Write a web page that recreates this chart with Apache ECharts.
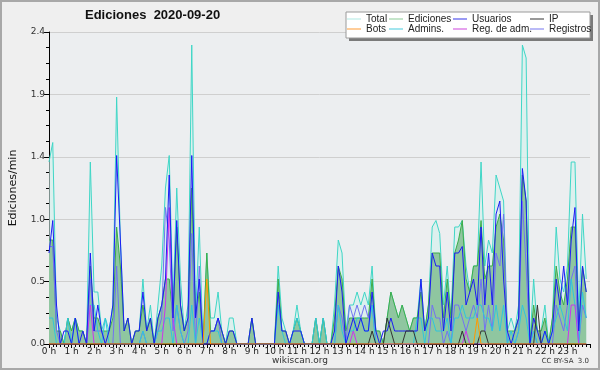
<!DOCTYPE html>
<html><head><meta charset="utf-8">
<script src="https://cdn.jsdelivr.net/npm/echarts@6/dist/echarts.min.js"></script>
<style>html,body{margin:0;padding:0;background:#efefef}#c{width:600px;height:370px}</style>
</head><body><div id="c"></div>
<script>
// 10-minute slots, 6 per hour, 24 hours (values in edits/min)
const total = [
 1.4,1.55,0.2,0.1,0.0,0.2,  0.1,0.2,0.1,0.1,0.0,1.4,  0.4,0.4,0.1,0.2,0.1,0.3,  1.9,0.8,0.1,0.2,0.0,0.1,
 0.1,0.5,0.1,0.3,0.0,0.3,  0.6,1.2,1.45,0.3,1.2,0.5,  0.1,0.3,2.3,0.2,0.9,0.0,  0.7,0.2,0.2,0.4,0.1,0.0,
 0.2,0.2,0.0,0.0,0.0,0.0,  0.2,0.0,0.0,0.0,0.0,0.0,  0.0,0.6,0.2,0.1,0.0,0.1,  0.3,0.1,0.0,0.0,0.0,0.2,
 0.0,0.2,0.0,0.0,0.3,0.8,  0.7,0.1,0.3,0.3,0.4,0.3,  0.4,0.3,0.6,0.1,0.1,0.0,  0.2,0.4,0.3,0.2,0.3,0.2,
 0.1,0.2,0.2,0.5,0.1,0.3,  0.9,0.95,0.85,0.3,0.6,0.2,  0.9,0.9,0.95,0.6,0.4,0.6,  0.6,1.4,0.6,0.8,0.7,1.3,
 1.2,1.1,0.1,0.2,0.1,0.3,  2.3,2.2,0.0,0.5,0.1,0.1,  0.3,0.0,0.2,0.9,0.5,0.4,  0.6,1.4,1.4,0.2,1.0,0.5
];
const ediciones = [
 0.8,0.8,0.1,0.1,0,0.2,  0.1,0.2,0.1,0.1,0,0.6,  0.2,0.2,0.1,0.1,0.1,0.2,  0.9,0.6,0.1,0.2,0,0.1,
 0.1,0.3,0.1,0.2,0,0.2,  0.3,0.5,0.5,0.2,0.9,0.3,  0.1,0.2,1.2,0.2,0.4,0,  0.7,0.1,0.1,0.2,0.1,0,
 0.1,0.1,0,0,0,0,  0.2,0,0,0,0,0,  0,0.5,0.1,0.1,0,0.1,  0.2,0.1,0,0,0,0.2,
 0,0.2,0,0,0.2,0.6,  0.5,0.1,0.2,0.2,0.2,0.2,  0.2,0.2,0.5,0.1,0.1,0,  0.2,0.4,0.3,0.2,0.3,0.2,
 0.1,0.2,0.2,0.4,0.1,0.3,  0.7,0.7,0.7,0.2,0.5,0.2,  0.7,0.8,0.95,0.5,0.4,0.6,  0.6,0.95,0.5,0.6,0.6,0.9,
 1.0,0.8,0.1,0.1,0.1,0.2,  1.3,1.1,0,0.3,0.1,0.1,  0.2,0,0.2,0.6,0.4,0.3,  0.5,0.9,0.9,0.1,0.6,0.4
];
const usuarios = [
 0.7,0.95,0.3,0,0.1,0.1,  0,0.2,0,0.1,0,0.7,  0.1,0.3,0.1,0,0.1,0.3,  1.45,0.8,0.1,0.2,0,0.1,
 0.1,0.4,0.1,0.2,0,0.2,  0.3,0.5,1.3,0.2,0.95,0.3,  0.1,0.2,1.45,0.2,0.5,0,  0,0.1,0.1,0.2,0.1,0,
 0.1,0.1,0,0,0,0,  0.2,0,0,0,0,0,  0,0.4,0.1,0.1,0,0.1,  0.1,0.1,0,0,0,0,
 0,0,0,0,0.1,0.6,  0.4,0,0.1,0.2,0.1,0.2,  0.1,0.1,0.4,0.1,0,0.1,  0.1,0.2,0.1,0.1,0.1,0.1,
 0.1,0.1,0.1,0.5,0.1,0.2,  0.7,0.6,0.6,0.1,0.4,0.1,  0.7,0.7,0.75,0.3,0.4,0.5,  0.3,0.9,0.3,0.7,0.3,1.0,
 1.1,0.5,0.1,0,0.1,0.2,  1.35,1.1,0,0.2,0.1,0,  0.1,0,0.1,0.5,0.3,0.6,  0.3,0.8,1.05,0.1,0.6,0.4
];
const ip = [
 0,0,0,0,0,0,  0,0,0,0,0,0,  0,0,0,0,0,0,  0,0,0,0,0,0,
 0,0,0,0,0,0,  0,0,0,0,0,0,  0,0,0,0,0,0,  0,0,0,0,0,0,
 0,0,0,0,0,0,  0,0,0,0,0,0,  0,0,0,0,0,0,  0,0,0,0,0,0,
 0,0,0,0,0,0,  0,0,0,0,0,0,  0,0,0.1,0,0,0,  0.2,0.1,0,0,0,0.1,
 0.1,0.1,0,0,0,0,  0,0,0,0,0,0,  0,0,0.1,0,0,0,  0,0.1,0.1,0,0,0,
 0,0,0,0,0,0,  0,0,0,0,0.3,0,  0,0,0,0,0,0,  0,0,0,0,0,0
];
const bots = [
 0,0,0,0,0,0,  0,0,0,0,0,0,  0,0,0,0,0,0,  0,0,0,0,0,0,
 0,0,0,0,0,0,  0,0,0,0,0,0,  0,0,0,0,0,0,  0.5,0,0,0,0,0,
 0,0,0,0,0,0,  0,0,0,0,0,0,  0,0,0,0,0,0,  0,0,0,0,0,0,
 0,0,0,0,0,0,  0,0,0,0,0,0,  0,0,0,0,0,0,  0,0,0,0,0,0,
 0,0,0,0,0,0,  0,0,0,0,0,0,  0,0,0,0,0,0,  0.2,0,0,0,0,0,
 0,0,0,0,0,0,  0,0,0,0,0,0,  0,0,0,0,0,0,  0,0,0,0,0,0
];
const admins = [
 0.2,0.2,0,0,0,0.2,  0,0.2,0,0,0,0.3,  0.3,0.1,0,0.2,0,0,  0,0,0,0,0,0,
 0,0.1,0,0,0,0.1,  0.1,0.2,0.2,0,0.3,0.1,  0,0,0.3,0,0.2,0,  0,0.1,0.1,0.1,0,0,
 0,0,0,0,0,0,  0,0,0,0,0,0,  0,0.3,0.1,0,0,0.1,  0.2,0.1,0,0,0,0.2,
 0,0.2,0,0,0,0.3,  0.1,0,0.1,0.1,0.2,0.2,  0.1,0.1,0.3,0,0,0,  0,0,0,0,0,0,
 0,0,0.2,0.2,0,0.2,  0.2,0.1,0.1,0.1,0.2,0,  0.2,0.2,0.3,0.2,0.2,0.2,  0.3,0.3,0.2,0.2,0.1,0.3,
 0.1,0.3,0,0.1,0,0.1,  0.3,0.2,0,0.1,0,0,  0.1,0,0.1,0.2,0.3,0.2,  0.1,0.5,0.3,0,0.4,0.2
];
const regAdm = [
 0,0,0,0,0,0,  0,0,0,0,0,0.3,  0,0,0,0,0,0,  0,0,0,0,0,0,
 0,0,0,0,0,0,  0,0.3,1.05,0.2,0,0,  0,0,0,0,0,0,  0,0,0,0,0,0,
 0,0,0,0,0,0,  0,0,0,0,0,0,  0,0,0,0,0,0,  0,0,0,0,0,0,
 0,0,0,0,0,0,  0,0,0,0.1,0,0,  0,0,0,0,0,0,  0,0,0,0,0,0,
 0,0,0,0,0,0,  0,0,0,0,0,0,  0,0,0,0.1,0,0,  0,0,0,0,0,0,
 0,0,0,0,0,0,  0,0,0,0,0,0,  0,0,0,0,0,0,  0,0.3,0.3,0,0,0
];
const registros = [
 0.75,0.75,0.1,0,0,0,  0,0,0,0,0,0.5,  0.1,0.1,0.1,0,0,0,  0.6,0,0,0,0,0,
 0,0.1,0,0,0,0.1,  0.2,1.05,0.8,0.1,0.3,0.1,  0,0.1,0.85,0,0.6,0,  0,0.1,0.1,0.2,0,0,
 0,0,0,0,0,0,  0,0,0,0,0,0,  0,0,0,0,0,0,  0,0,0,0,0,0,
 0,0,0,0,0,0.3,  0.2,0,0.3,0.2,0.3,0.2,  0.3,0.2,0.3,0,0,0,  0,0,0,0,0,0,
 0,0,0,0,0,0,  0.3,0.2,0.2,0,0.1,0,  0.3,0.3,0.2,0.1,0.2,0.3,  0.2,0.5,0.1,0.3,0.1,0.7,
 0.6,1.0,0,0,0,0.1,  1.1,0.6,0,0.1,0,0,  0,0,0,0.3,0.2,0.1,  0.3,0.5,0.6,0,0.3,0.2
];
const seriesNames = ['Total','Ediciones','Usuarios','IP','Bots','Admins.','Reg. de adm.','Registros'];
const slotsPerHour = 6;

const toPts = arr => arr.map((v, i) => [i / slotsPerHour, v]);
const lineS = (name, arr, color, z, area) => {
  const s = {name, type:'line', data: toPts(arr), showSymbol:false, symbol:'none', z,
    lineStyle:{color, width:1}, itemStyle:{color}, emphasis:{disabled:true}};
  if (area) s.areaStyle = area;
  return s;
};

const legendText = {fontSize:10, color:'#222', fontFamily:'Liberation Sans', lineHeight:10};
const legItem = (name, color) => ({name, icon:'rect', itemStyle:{color}});
const mkLegend = (left, items) => ({
  orient:'vertical', left, top:14, padding:0, itemGap:0, itemWidth:14, itemHeight:1,
  textStyle:legendText, selectedMode:false, z:20, data:items
});

const chart = echarts.init(document.getElementById('c'), null, {renderer:'canvas'});
chart.setOption({
  animation:false,
  backgroundColor:'#efefef',
  title:{text:'Ediciones  2020-09-20', left:85, top:9, padding:0,
    textStyle:{fontSize:13, fontWeight:'bold', fontFamily:'Liberation Sans', color:'#111'}},
  grid:{left:45, right:10, top:32, bottom:26, show:true, backgroundColor:'#eceef0', borderWidth:0},
  xAxis:{type:'value', min:0, max:24, interval:1,
    axisLine:{show:true, lineStyle:{color:'#000', width:1}},
    axisTick:{show:true, length:4, lineStyle:{color:'#000'}},
    minorTick:{show:true, splitNumber:6, length:3, lineStyle:{color:'#000'}},
    splitLine:{show:false},
    axisLabel:{fontSize:9, color:'#222', margin:3, fontFamily:'DejaVu Sans',
      formatter: v => v >= 24 ? '' : v + ' h'}},
  yAxis:{type:'value', min:0, max:2.4, interval:0.48,
    name:'Ediciones/min', nameLocation:'middle', nameGap:30, nameRotate:90,
    nameTextStyle:{fontSize:11, color:'#111', fontFamily:'DejaVu Sans'},
    axisLine:{show:true, lineStyle:{color:'#000', width:1}},
    axisTick:{show:true, length:5, lineStyle:{color:'#000'}},
    minorTick:{show:true, splitNumber:4, length:3, lineStyle:{color:'#000'}},
    splitLine:{show:true, lineStyle:{color:'#cfcfcf', width:1}},
    axisLabel:{fontSize:9, color:'#333', margin:4, fontFamily:'DejaVu Sans',
      formatter: v => v.toFixed(1)}},
  legend:[
    mkLegend(347, [legItem('Total','#aee8e2'), legItem('Bots','#ff9a33')]),
    mkLegend(389, [legItem('Ediciones','#8acb96'), legItem('Admins.','#45cbdc')]),
    mkLegend(453, [legItem('Usuarios','#3434e8'), legItem('Reg. de adm.','#cc44dd')]),
    mkLegend(530, [legItem('IP','#333333'), legItem('Registros','#7474ee')])
  ],
  graphic:[
    {type:'rect', shape:{x:1, y:1, width:598, height:368}, style:{fill:'none', stroke:'#a8a8a8', lineWidth:2}, z:30, silent:true},
    {type:'rect', shape:{x:349, y:15, width:244, height:26}, style:{fill:'#7a7a7a'}, z:18, silent:true},
    {type:'rect', shape:{x:346, y:12, width:244, height:26}, style:{fill:'#ffffff', stroke:'#9a9a9a', lineWidth:1}, z:19, silent:true},
    {type:'text', left:'center', top:356, style:{text:'wikiscan.org', fontSize:9, fill:'#333', fontFamily:'DejaVu Sans'}, z:20},
    {type:'text', right:11, top:358, style:{text:'CC BY-SA  3.0', fontSize:7, fill:'#333', fontFamily:'DejaVu Sans'}, z:20}
  ],
  series:[
    lineS(seriesNames[0], total, '#3fd6c6', 2, {color:'rgba(210,242,236,0.85)'}),
    lineS(seriesNames[1], ediciones, '#3cad4a', 3, {color:'#8fc6a0', opacity:1}),
    lineS(seriesNames[7], registros, '#7272f2', 4),
    lineS(seriesNames[5], admins, '#2fc6dc', 5),
    lineS(seriesNames[6], regAdm, '#cc33ee', 6),
    lineS(seriesNames[2], usuarios, '#1c1cf5', 7),
    lineS(seriesNames[3], ip, '#333333', 8),
    lineS(seriesNames[4], bots, '#ff9900', 9)
  ]
});
</script></body></html>
